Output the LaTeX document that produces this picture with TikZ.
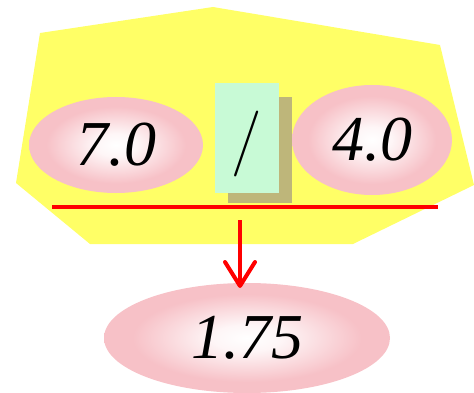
\documentclass[tikz,border=0pt]{standalone}
\usepackage{fontspec}
\newfontfamily\numfont{Liberation Serif}
\usetikzlibrary{shapes.geometric,arrows.meta}
\definecolor{yel}{RGB}{255,255,102}
\definecolor{pinkc}{RGB}{247,193,199}
\definecolor{mint}{RGB}{200,250,214}
\definecolor{olive}{RGB}{190,182,122}
\definecolor{redc}{RGB}{255,0,0}
\pgfdeclareradialshading{pinkball}{\pgfpoint{0bp}{0bp}}{color(0bp)=(white); color(6bp)=(white!85!pinkc); color(20bp)=(pinkc); color(25bp)=(pinkc); color(50bp)=(pinkc)}
\tikzset{
  numell/.style={ellipse, inner sep=0pt, shading=pinkball, draw=none,
    font=\numfont\itshape\fontsize{64}{70}\selectfont},
  opbox/.style={rectangle, inner sep=0pt, fill=mint, minimum width=64pt, minimum height=110pt},
  shadowbox/.style={rectangle, inner sep=0pt, fill=olive, minimum width=64pt, minimum height=106pt},
  redline/.style={draw=redc, line width=4pt},
}
\begin{document}
\begin{tikzpicture}[x=1pt,y=-1pt]
\useasboundingbox (0,0) rectangle (474,393);
% yellow polygon
\fill[yel] (40,33) -- (213,7) -- (440,45) -- (474,185) -- (353,244) -- (90,244) -- (16,183) -- cycle;
% operand ellipses
\node[numell, minimum width=174pt, minimum height=96pt] (a) at (116,145) {\raisebox{-5pt}{7.0}};
\node[numell, minimum width=160pt, minimum height=110pt] (b) at (372,140) {\raisebox{-4pt}{4.0}};
% operator box with shadow
\node[shadowbox] (sh) at (260,150) {};
\node[opbox] (op) at (247,138) {};
\node[font=\fontsize{66}{70}\selectfont, inner sep=0pt] (slash) at (247,144) {/};
% red bar
\coordinate (l1) at (52,207);
\coordinate (l2) at (438,207);
\draw[redline] (l1) -- (l2);
% result
\node[numell, minimum width=286pt, minimum height=110pt] (res) at (247,338) {\raisebox{-6pt}{1.75}};
% arrow
\coordinate (s1) at (240,220);
\coordinate (s2) at (240,288);
\draw[redline, -{Straight Barb[length=24pt,width=30pt,line cap=round,line join=round]}] (s1) -- (s2);
\end{tikzpicture}
\end{document}
